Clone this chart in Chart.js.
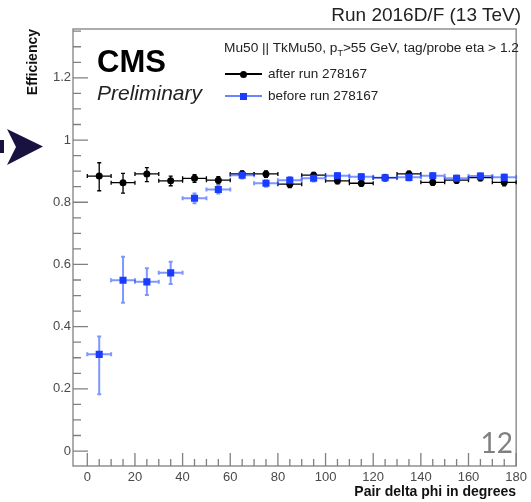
<!DOCTYPE html>
<html>
<head>
<meta charset="utf-8">
<script src="https://cdn.jsdelivr.net/npm/chart.js@4"></script>
<style>
  body { margin: 0; background: #fff; }
  #wrap { position: relative; width: 531px; height: 502px; font-family: "Liberation Sans", Arial, sans-serif; }
  #wrap canvas { position: absolute; left: 0; top: 0; }
  .txt { position: absolute; white-space: nowrap; line-height: 1; color: #111; }
  .mark { position: absolute; }
</style>
</head>
<body>
<div id="wrap">
  <canvas id="effChart" width="531" height="502"></canvas>

  <svg class="mark" style="left:0;top:120px" width="50" height="50">
    <rect x="0" y="20" width="4" height="13" fill="#17123f"/>
    <polygon points="7,9 43,26.5 7,45 16,27" fill="#17123f"/>
  </svg>

  <div class="txt" style="right:10px;top:5px;font-size:19px;color:#222">Run 2016D/F (13 TeV)</div>
  <div class="txt" style="left:97px;top:46px;font-size:31px;font-weight:bold;color:#000">CMS</div>
  <div class="txt" style="left:97px;top:82px;font-size:21px;font-style:italic;color:#222">Preliminary</div>

  <div class="txt" style="left:224px;top:41px;font-size:13.7px;color:#222">Mu50 || TkMu50, p<span style="font-size:9px;position:relative;top:4px">T</span>&gt;55 GeV, tag/probe eta &gt; 1.2</div>

  <div class="mark" style="left:225px;top:73px;width:37px;height:1.5px;background:#000"></div>
  <div class="mark" style="left:239.5px;top:70.5px;width:7px;height:7px;border-radius:50%;background:#000"></div>
  <div class="txt" style="left:268px;top:67px;font-size:13.5px;color:#222">after run 278167</div>

  <div class="mark" style="left:225px;top:95px;width:37px;height:2px;background:rgba(40,80,255,0.7)"></div>
  <div class="mark" style="left:240px;top:92.5px;width:7px;height:7px;background:#1a3cff"></div>
  <div class="txt" style="left:268px;top:89px;font-size:13.5px;color:#222">before run 278167</div>

  <div class="txt" style="right:18px;top:428px;font-size:28px;font-family:Lato,'Open Sans',sans-serif;color:#808080">12</div>
</div>

<script>
// Bins: 10 degree wide, centres 5..175
const binCenters = [5, 15, 25, 35, 45, 55, 65, 75, 85, 95, 105, 115, 125, 135, 145, 155, 165, 175];
const binHalfWidth = 5;

// after run 278167 (black)
const afterEff = [0.884, 0.863, 0.891, 0.869, 0.877, 0.871, 0.891, 0.891, 0.858, 0.887, 0.869, 0.861, 0.879, 0.891, 0.864, 0.871, 0.879, 0.864];
const afterErrUp = [0.043, 0.030, 0.020, 0.015, 0.012, 0.011, 0.010, 0.010, 0.010, 0.009, 0.009, 0.009, 0.009, 0.009, 0.009, 0.009, 0.009, 0.010];
const afterErrDown = [0.047, 0.034, 0.025, 0.016, 0.013, 0.012, 0.011, 0.011, 0.011, 0.010, 0.010, 0.010, 0.010, 0.010, 0.010, 0.010, 0.010, 0.011];

// before run 278167 (blue)
const beforeEff = [0.311, 0.549, 0.544, 0.573, 0.813, 0.841, 0.887, 0.861, 0.871, 0.877, 0.885, 0.882, 0.879, 0.880, 0.885, 0.877, 0.884, 0.880];
const beforeErrUp = [0.057, 0.076, 0.044, 0.036, 0.015, 0.012, 0.010, 0.010, 0.010, 0.009, 0.009, 0.009, 0.009, 0.009, 0.009, 0.009, 0.009, 0.009];
const beforeErrDown = [0.128, 0.072, 0.042, 0.036, 0.016, 0.013, 0.011, 0.011, 0.011, 0.010, 0.010, 0.010, 0.010, 0.010, 0.010, 0.010, 0.010, 0.010];

// Axis ticks
const xTicks = [0, 20, 40, 60, 80, 100, 120, 140, 160, 180];
const xTickLabels = ['0', '20', '40', '60', '80', '100', '120', '140', '160', '180'];
const yTicks = [0, 0.2, 0.4, 0.6, 0.8, 1.0, 1.2];
const yTickLabels = ['0', '0.2', '0.4', '0.6', '0.8', '1', '1.2'];
const xMinorStep = 5;
const yMinorStep = 0.05;

const BLACK = '#000';
const BLUE = '#1a3cff';
const BLUE_BAR = 'rgba(40, 80, 255, 0.6)';
const AXIS = '#808080';

function toPoints(vals) {
	return binCenters.map((c, i) => ({ x: c, y: vals[i] }));
}

function drawErrors(chart, vals, up, down, color, width) {
	const ctx = chart.ctx;
	const xs = chart.scales.x, ys = chart.scales.y;
	ctx.save();
	ctx.strokeStyle = color;
	ctx.lineWidth = width;
	binCenters.forEach((c, i) => {
		const px = xs.getPixelForValue(c);
		const py = ys.getPixelForValue(vals[i]);
		const x0 = xs.getPixelForValue(c - binHalfWidth);
		const x1 = xs.getPixelForValue(c + binHalfWidth);
		const yTop = ys.getPixelForValue(vals[i] + up[i]);
		const yBot = ys.getPixelForValue(vals[i] - down[i]);
		ctx.beginPath();
		ctx.moveTo(x0, py); ctx.lineTo(x1, py);
		ctx.moveTo(px, yTop); ctx.lineTo(px, yBot);
		// small end caps like ROOT
		ctx.moveTo(x0, py - 2); ctx.lineTo(x0, py + 2);
		ctx.moveTo(x1, py - 2); ctx.lineTo(x1, py + 2);
		ctx.moveTo(px - 2, yTop); ctx.lineTo(px + 2, yTop);
		ctx.moveTo(px - 2, yBot); ctx.lineTo(px + 2, yBot);
		ctx.stroke();
	});
	ctx.restore();
}

// ROOT-like frame with inward ticks
const rootFrame = {
	id: 'rootFrame',
	beforeDatasetsDraw(chart) {
		const { ctx, chartArea: a } = chart;
		const xs = chart.scales.x, ys = chart.scales.y;
		ctx.save();
		ctx.strokeStyle = AXIS;
		ctx.lineWidth = 1.3;
		ctx.strokeRect(a.left, a.top, a.right - a.left, a.bottom - a.top);
		ctx.beginPath();
		for (let v = 0; v <= 180 + 1e-6; v += xMinorStep) {
			const px = xs.getPixelForValue(v);
			const len = xTicks.includes(Math.round(v)) ? 13 : 7;
			ctx.moveTo(px, a.bottom); ctx.lineTo(px, a.bottom - len);
		}
		for (let k = 0; k * yMinorStep <= ys.max; k++) {
			const v = k * yMinorStep;
			const py = ys.getPixelForValue(v);
			const len = k % 4 === 0 ? 15 : 8;
			ctx.moveTo(a.left, py); ctx.lineTo(a.left + len, py);
		}
		ctx.stroke();
		ctx.restore();

		drawErrors(chart, afterEff, afterErrUp, afterErrDown, BLACK, 1.3);
		drawErrors(chart, beforeEff, beforeErrUp, beforeErrDown, BLUE_BAR, 2);
	}
};

new Chart(document.getElementById('effChart'), {
	type: 'scatter',
	data: {
		datasets: [
			{
				label: 'before run 278167',
				data: toPoints(beforeEff),
				pointStyle: 'rect',
				pointRadius: 5,
				backgroundColor: BLUE,
				borderWidth: 0,
			},
			{
				label: 'after run 278167',
				data: toPoints(afterEff),
				pointStyle: 'circle',
				pointRadius: 3.5,
				backgroundColor: BLACK,
				borderWidth: 0,
			}
		]
	},
	options: {
		responsive: false,
		animation: false,
		devicePixelRatio: 1,
		layout: { padding: { left: 0, right: 10, top: 29, bottom: 0 } },
		plugins: {
			legend: { display: false },
			tooltip: { enabled: false }
		},
		scales: {
			x: {
				type: 'linear',
				min: -6,
				max: 180,
				afterFit: s => { s.height = 36; },
				afterBuildTicks: s => { s.ticks = xTicks.map(v => ({ value: v })); },
				ticks: {
					padding: 4,
					color: '#4a4a4a',
					font: { family: 'Liberation Sans', size: 13 },
					maxRotation: 0,
					callback: (v, i) => xTickLabels[i]
				},
				grid: { display: false, drawTicks: false },
				border: { display: false },
				title: {
					display: true,
					text: 'Pair delta phi in degrees',
					align: 'end',
					color: '#111',
					font: { family: 'Liberation Sans', size: 14, weight: 'bold' },
					padding: { top: 0, bottom: 1 }
				}
			},
			y: {
				type: 'linear',
				min: -0.048,
				max: 1.357,
				afterFit: s => { s.width = 73; },
				afterBuildTicks: s => { s.ticks = yTicks.map(v => ({ value: v })); },
				ticks: {
					padding: 2,
					color: '#4a4a4a',
					font: { family: 'Liberation Sans', size: 13 },
					callback: (v, i) => yTickLabels[i]
				},
				grid: { display: false, drawTicks: false },
				border: { display: false },
				title: {
					display: true,
					text: 'Efficiency',
					align: 'end',
					color: '#111',
					font: { family: 'Liberation Sans', size: 14, weight: 'bold' },
					padding: { top: 25, bottom: 0 }
				}
			}
		}
	},
	plugins: [rootFrame]
});
</script>
</body>
</html>
